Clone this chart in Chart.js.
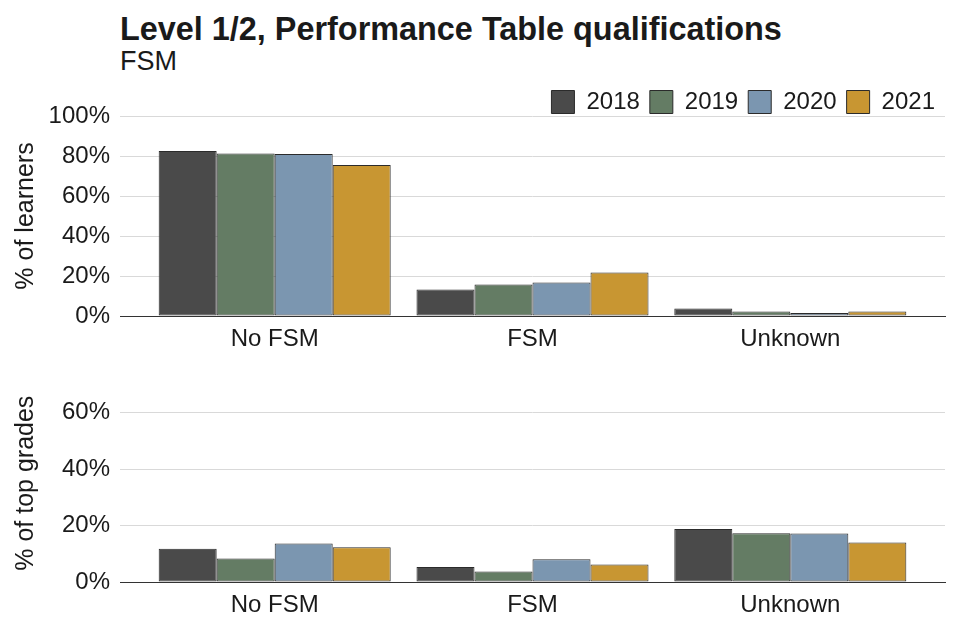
<!DOCTYPE html>
<html>
<head>
<meta charset="utf-8">
<script src="https://cdn.jsdelivr.net/npm/chart.js@4.4.1/dist/chart.umd.min.js"></script>
<style>
  body { margin: 0; background: #fff; font-family: "Liberation Sans", Arial, sans-serif; color: #1a1a1a; }
  #wrap { position: relative; width: 960px; height: 640px; }
  .box { position: absolute; left: 0; width: 960px; height: 280px; }
  #title { position: absolute; left: 120px; top: 13px; font-size: 32.4px; line-height: 1; font-weight: bold; white-space: nowrap; }
  #subtitle { position: absolute; left: 120px; top: 48px; font-size: 27px; line-height: 1; }
</style>
</head>
<body>
<div id="wrap">
  <div id="title">Level 1/2, Performance Table qualifications</div>
  <div id="subtitle">FSM</div>
  <div class="box" style="top:80px"><canvas id="learners"></canvas></div>
  <div class="box" style="top:360px"><canvas id="grades"></canvas></div>
</div>
<script>
// FSM groups and years
const categories = ["No FSM", "FSM", "Unknown"];
const years = ["2018", "2019", "2020", "2021"];
const yearColours = ["#4a4a4a", "#647c64", "#7b96b0", "#c89632"];

// % of learners by year (No FSM, FSM, Unknown)
const learners2018 = [82.5, 13.3, 3.8];
const learners2019 = [81.2, 15.8, 2.2];
const learners2020 = [81.0, 16.8, 1.5];
const learners2021 = [75.5, 21.8, 2.2];

// % of top grades by year
const grades2018 = [11.8, 5.3, 18.8];
const grades2019 = [8.3, 3.7, 17.3];
const grades2020 = [13.6, 8.1, 17.2];
const grades2021 = [12.3, 6.2, 14.0];

const learnerTicks = [0, 20, 40, 60, 80, 100];
const gradeTicks = [0, 20, 40, 60];

const font = "'Liberation Sans', Arial, sans-serif";
const ink = "#1a1a1a";

function makeSets(series) {
  return series.map((vals, i) => ({
    label: years[i],
    data: vals,
    backgroundColor: yearColours[i],
    borderColor: "#2b2b2b",
    borderWidth: 1,
    borderSkipped: false,
    categoryPercentage: 0.9,
    barPercentage: 1.0
  }));
}

function makeChart(id, series, tickList, yMax, yTitle, showLegend, padTop) {
  return new Chart(document.getElementById(id), {
    type: "bar",
    data: { labels: categories, datasets: makeSets(series) },
    options: {
      responsive: true,
      maintainAspectRatio: false,
      animation: false,
      layout: { padding: { top: padTop, right: 15, left: 0, bottom: 0 } },
      plugins: {
        tooltip: { enabled: false },
        legend: {
          display: showLegend,
          align: "end",
          maxHeight: 36,
          labels: {
            boxWidth: 23, boxHeight: 23, padding: 10,
            color: ink, font: { family: font, size: 24 }
          }
        }
      },
      scales: {
        x: {
          grid: { display: false, drawTicks: false },
          border: { display: true, color: "#333333", width: 1 },
          ticks: { color: ink, padding: 9, font: { family: font, size: 24 } },
          // wider outer margin like a discrete axis with 0.6 expansion
          afterBuildTicks: s => { s._startValue = s.min - 0.6; s._valueRange = (s.max - s.min) + 1.2; },
          afterFit: s => { s.height = showLegend ? 44 : 58; }
        },
        y: {
          min: 0,
          max: yMax,
          afterBuildTicks: s => { s.ticks = tickList.map(v => ({ value: v })); },
          grid: { color: "#d9d9d9", lineWidth: 1, drawTicks: false },
          border: { display: false },
          ticks: { color: ink, padding: 10, font: { family: font, size: 24 }, callback: v => v + "%" },
          title: { display: true, text: yTitle, color: ink, padding: { top: 11, bottom: 0 }, font: { family: font, size: 25 } },
          afterFit: s => { s.width = 120; }
        }
      }
    }
  });
}

makeChart("learners", [learners2018, learners2019, learners2020, learners2021], learnerTicks, 100, "% of learners", true, 0);
makeChart("grades", [grades2018, grades2019, grades2020, grades2021], gradeTicks, 70, "% of top grades", false, 22);
</script>
</body>
</html>
